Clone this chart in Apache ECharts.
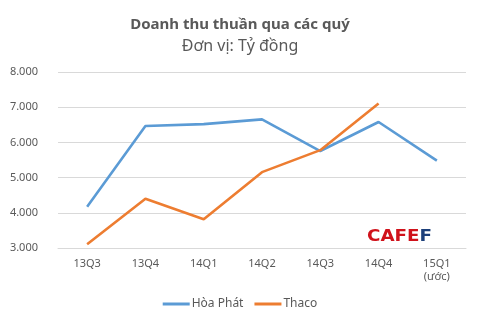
<!DOCTYPE html>
<html><head><meta charset="utf-8">
<script src="https://cdn.jsdelivr.net/npm/echarts@6/dist/echarts.min.js"></script>
<style>html,body{margin:0;padding:0;background:#fff}#c{width:480px;height:323px}</style>
</head><body><div id="c"></div>
<script>
const categories = ['13Q3','13Q4','14Q1','14Q2','14Q3','14Q4','15Q1\n(ước)'];
const hoaPhat = [4170, 6465, 6520, 6655, 5755, 6580, 5480];
const thaco = [3105, 4400, 3815, 5155, 5780, 7105, null];
const seriesNames = ['Hòa Phát', 'Thaco'];
const yTicks = { min: 3000, max: 8000, interval: 1000 };

const chart = echarts.init(document.getElementById('c'));
const font = '"Noto Sans", sans-serif';
chart.setOption({
  animation: false,
  title: {
    text: 'Doanh thu thuần qua các quý',
    subtext: 'Đơn vị: Tỷ đồng',
    left: 'center', top: 12, itemGap: 6,
    textStyle: { fontFamily: font, fontSize: 15, fontWeight: 'bold', color: '#595959' },
    subtextStyle: { fontFamily: font, fontSize: 16, color: '#595959' }
  },
  grid: { left: 58, right: 14, top: 72, bottom: 75 },
  legend: {
    bottom: 8, left: 'center', icon: 'rect', itemWidth: 27, itemHeight: 3, itemGap: 11,
    textStyle: { fontFamily: font, fontSize: 12, color: '#595959', padding: [0,0,0,-3] },
    data: seriesNames
  },
  xAxis: {
    type: 'category', data: categories, boundaryGap: true,
    axisTick: { show: false },
    axisLine: { lineStyle: { color: '#d9d9d9', width: 1 } },
    axisLabel: { fontFamily: font, fontSize: 11, color: '#595959', margin: 9, lineHeight: 13 }
  },
  yAxis: {
    type: 'value', min: yTicks.min, max: yTicks.max, interval: yTicks.interval,
    axisLine: { show: false }, axisTick: { show: false },
    splitLine: { lineStyle: { color: '#d9d9d9', width: 1 } },
    axisLabel: { fontFamily: font, fontSize: 11, color: '#595959', margin: 20,
      formatter: v => v.toLocaleString('en-US').replace(/,/g, '.') }
  },
  graphic: [{
    type: 'text', x: 367, y: 230, scaleX: 1.22,
    style: {
      text: '{r|CAFE}{b|F}',
      rich: {
        r: { fontFamily: '"DejaVu Sans", sans-serif', fontWeight: 'bold', fontSize: 15, fill: '#d0121b' },
        b: { fontFamily: '"DejaVu Sans", sans-serif', fontWeight: 'bold', fontSize: 15, fill: '#1c3f7a' }
      }
    }
  }],
  series: [
    { name: seriesNames[0], type: 'line', data: hoaPhat, showSymbol: false, symbol: 'none',
      lineStyle: { color: '#5b9bd5', width: 2.6 }, itemStyle: { color: '#5b9bd5' } },
    { name: seriesNames[1], type: 'line', data: thaco, showSymbol: false, symbol: 'none',
      lineStyle: { color: '#ed7d31', width: 2.6 }, itemStyle: { color: '#ed7d31' } }
  ]
});
</script></body></html>
